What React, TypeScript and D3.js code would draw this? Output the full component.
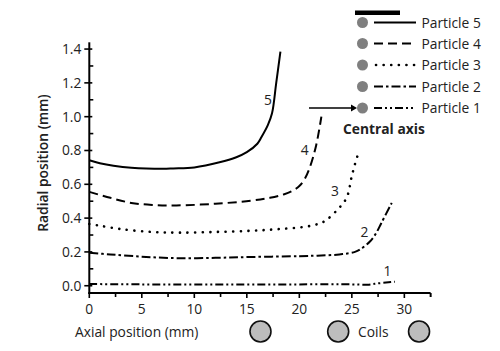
import React from "react";
import * as d3 from "d3";

type Pt = [number, number];

const particle5: Pt[] = [[0,0.742],[1,0.725],[2.3,0.71],[4,0.698],[7,0.692],[8,0.694],[10,0.7],[12.4,0.73],[14,0.76],[15,0.79],[16,0.84],[16.4,0.88],[17,0.95],[17.4,1.02],[17.8,1.2],[18.2,1.385]];
const particle4: Pt[] = [[0,0.555],[2,0.52],[4,0.49],[6,0.478],[8.3,0.475],[12,0.485],[15.4,0.503],[17.2,0.52],[18.5,0.54],[19.3,0.56],[20,0.59],[20.5,0.63],[21,0.7],[21.6,0.83],[22.1,1.0]];
const particle3: Pt[] = [[0,0.365],[1,0.355],[3,0.335],[6,0.318],[8.6,0.314],[12,0.318],[15.4,0.325],[18,0.335],[20.7,0.35],[22,0.37],[22.6,0.39],[23.6,0.448],[24.5,0.52],[25,0.65],[25.3,0.72],[25.6,0.78]];
const particle2: Pt[] = [[0,0.195],[2,0.185],[5,0.172],[8.3,0.163],[12,0.165],[15.4,0.17],[20,0.175],[21.7,0.178],[23.8,0.185],[25.3,0.2],[25.8,0.215],[26.7,0.26],[27.3,0.31],[27.8,0.37],[28.8,0.49]];
const particle1: Pt[] = [[0,0.01],[5,0.008],[10,0.008],[15,0.008],[20,0.008],[25,0.008],[26.5,0.006],[27.5,0.014],[28.5,0.02],[29.1,0.024]];

const series = [
  { name: "Particle 5", label: "5", data: particle5, dash: "none", lx: 17.0, ly: 1.1 },
  { name: "Particle 4", label: "4", data: particle4, dash: "9,5", lx: 20.5, ly: 0.8 },
  { name: "Particle 3", label: "3", data: particle3, dash: "0.1,7.5", lx: 23.4, ly: 0.56 },
  { name: "Particle 2", label: "2", data: particle2, dash: "9,3,2.5,3", lx: 26.2, ly: 0.32 },
  { name: "Particle 1", label: "1", data: particle1, dash: "8,3,2,3,2,3", lx: 28.4, ly: 0.09 },
];

const xTicks = [0, 5, 10, 15, 20, 25, 30];
const yTicks = [0, 0.2, 0.4, 0.6, 0.8, 1.0, 1.2, 1.4];
const coilPositions = [16.3, 23.7, 31.4];

export default function App() {
  const W = 500, H = 351;
  const x = d3.scaleLinear().domain([0, 32.5]).range([89.3, 430.6]);
  const y = d3.scaleLinear().domain([-0.043, 1.44]).range([293, 42.3]);
  const line = d3.line<Pt>().x(d => x(d[0])).y(d => y(d[1])).curve(d3.curveCatmullRom.alpha(0.5));
  const font = "'Open Sans', 'Noto Sans', sans-serif";
  const fs = 13.8;
  const minorX = d3.range(0, 32.6, 2.5).filter(v => v % 5 !== 0);
  const minorY = d3.range(0.1, 1.45, 0.2);
  const legendRows = [22.5, 43.5, 65, 86.5, 108];
  const ax = x(0), ay = y(-0.043);
  const isDot = (d: string) => d === "0.1,7.5";
  return (
    <svg width={W} height={H} style={{ position: "absolute", left: 0, top: 0, background: "#fff" }} fontFamily={font}>
      <line x1={ax} x2={ax} y1={y(1.44)} y2={ay + 1} stroke="#000" strokeWidth={2} />
      <line x1={ax - 1} x2={x(32.5)} y1={ay} y2={ay} stroke="#000" strokeWidth={2} />
      {yTicks.map(v => (
        <g key={"y" + v}>
          <line x1={ax - 5} x2={ax + 3} y1={y(v)} y2={y(v)} stroke="#000" strokeWidth={1.6} />
          <text x={ax - 8} y={y(v) + 5} fontSize={fs} textAnchor="end" fill="#222">{v.toFixed(1)}</text>
        </g>
      ))}
      {minorY.map(v => (
        <line key={"my" + v} x1={ax} x2={ax + 4} y1={y(v)} y2={y(v)} stroke="#000" strokeWidth={1.6} />
      ))}
      {xTicks.map(v => (
        <g key={"x" + v}>
          <line x1={x(v)} x2={x(v)} y1={ay} y2={ay + 5} stroke="#000" strokeWidth={1.6} />
          <text x={x(v)} y={313.5} fontSize={fs} textAnchor="middle" fill="#222">{v}</text>
        </g>
      ))}
      {minorX.map(v => (
        <line key={"mx" + v} x1={x(v)} x2={x(v)} y1={ay} y2={ay + 4} stroke="#000" strokeWidth={1.6} />
      ))}
      <line x1={x(32.5)} x2={x(32.5)} y1={ay} y2={ay + 4} stroke="#000" strokeWidth={1.6} />
      <text transform={`translate(48,163) rotate(-90)`} fontSize={fs} fontWeight={600} textAnchor="middle" fill="#222">Radial position (mm)</text>
      <text x={75} y={337} fontSize={fs} fill="#222">Axial position (mm)</text>
      <text x={358} y={337} fontSize={fs} fill="#222">Coils</text>
      {coilPositions.map(c => (
        <circle key={"c" + c} cx={x(c)} cy={331.5} r={10.5} fill="#bdbdbd" stroke="#111" strokeWidth={1.6} />
      ))}
      {series.map(s => (
        <g key={s.name}>
          <path d={line(s.data) || ""} fill="none" stroke="#000" strokeWidth={isDot(s.dash) ? 2.6 : 2} strokeDasharray={s.dash} strokeLinecap={isDot(s.dash) ? "round" : "butt"} />
          <text x={x(s.lx)} y={y(s.ly) + 5} fontSize={fs} textAnchor="middle" fill="#222">{s.label}</text>
        </g>
      ))}
      <rect x={355} y={10.5} width={45} height={4.5} fill="#000" />
      {series.map((s, i) => (
        <g key={"lg" + s.name}>
          <circle cx={362.5} cy={legendRows[i]} r={5.5} fill="#7f7f7f" />
          <line x1={isDot(s.dash) ? 376 : 374} x2={416} y1={legendRows[i]} y2={legendRows[i]} stroke="#000" strokeWidth={isDot(s.dash) ? 2.6 : 2} strokeDasharray={s.dash} strokeLinecap={isDot(s.dash) ? "round" : "butt"} />
          <text x={421.5} y={legendRows[i] + 5} fontSize={fs} fill="#222">{s.name}</text>
        </g>
      ))}
      <line x1={309} x2={352} y1={108} y2={108} stroke="#000" strokeWidth={1.3} />
      <path d="M351,104.5 L357,108 L351,111.5 Z" fill="#000" />
      <text x={343} y={134} fontSize={fs} fontWeight={700} fill="#222">Central axis</text>
    </svg>
  );
}
